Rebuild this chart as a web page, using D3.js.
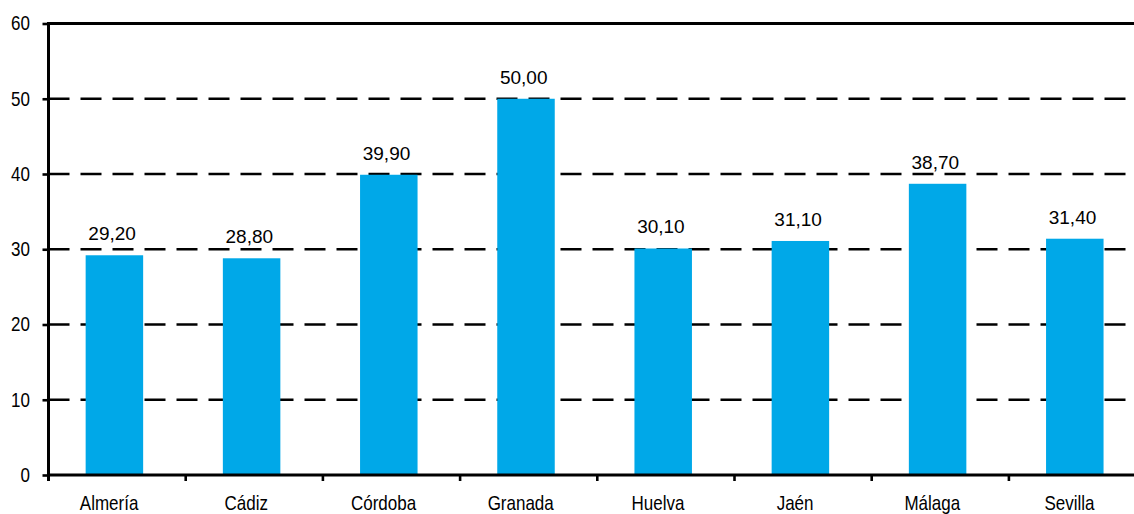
<!DOCTYPE html>
<html>
<head>
<meta charset="utf-8">
<script src="https://cdn.jsdelivr.net/npm/d3@7"></script>
<style>
  body { margin: 0; background: #fff; }
  svg { display: block; }
</style>
</head>
<body>
<script>
const categories = ['Almería', 'Cádiz', 'Córdoba', 'Granada', 'Huelva', 'Jaén', 'Málaga', 'Sevilla']
const values = [29.2, 28.8, 39.9, 50.0, 30.1, 31.1, 38.7, 31.4]
const yTicks = [0, 10, 20, 30, 40, 50, 60]
const valueLabels = ['29,20', '28,80', '39,90', '50,00', '30,10', '31,10', '38,70', '31,40']

const width = 1134
const height = 514
const left = 48.5
const step = 137.2
const barWidth = 57.5
const font = '"Liberation Sans", Arial, sans-serif'

const svg = d3.select('body').append('svg')
  .attr('width', width)
  .attr('height', height)

const x = d3.scaleBand()
  .domain(categories)
  .range([left, left + step * categories.length])
  .padding(0)

const y = d3.scaleLinear()
  .domain([0, 60])
  .range([475, 23.5])

// dashed gridlines
svg.append('g')
  .selectAll('line')
  .data(yTicks.filter(t => t > 0 && t < 60))
  .enter()
  .append('line')
  .attr('x1', left)
  .attr('x2', width)
  .attr('y1', d => y(d))
  .attr('y2', d => y(d))
  .attr('stroke', '#000')
  .attr('stroke-width', 2.6)
  .attr('stroke-dasharray', '21,11')

// top border
svg.append('line')
  .attr('x1', left - 1.5)
  .attr('x2', width)
  .attr('y1', y(60))
  .attr('y2', y(60))
  .attr('stroke', '#000')
  .attr('stroke-width', 3)

// bars
svg.append('g')
  .selectAll('rect')
  .data(values)
  .enter()
  .append('rect')
  .attr('x', (d, i) => x(categories[i]) + (x.bandwidth() - barWidth) / 2 - 2.7)
  .attr('y', d => y(d))
  .attr('width', barWidth)
  .attr('height', d => y(0) - y(d))
  .attr('fill', '#00a8e8')

// value labels
svg.append('g')
  .selectAll('text')
  .data(values)
  .enter()
  .append('text')
  .attr('x', (d, i) => x(categories[i]) + x.bandwidth() / 2 - 5)
  .attr('y', d => y(d) - 15)
  .attr('text-anchor', 'middle')
  .attr('font-family', font)
  .attr('font-size', 19)
  .attr('fill', '#000')
  .text((d, i) => valueLabels[i])

// y axis
var yAxis = d3.axisLeft(y)
  .tickValues(yTicks)
  .tickSize(6)
  .tickPadding(12)

var yAxisGroup = svg.append('g')
  .attr('transform', 'translate(' + left + ',0)')
  .call(yAxis)
yAxisGroup.select('.domain').remove()
yAxisGroup.selectAll('line').attr('stroke', '#000').attr('stroke-width', 2.6)
yAxisGroup.selectAll('text')
  .attr('x', 0)
  .attr('transform', 'translate(-18.5,0) scale(0.85,1)')
  .attr('font-family', font)
  .attr('font-size', 20)
  .attr('fill', '#000')

svg.append('line')
  .attr('x1', left)
  .attr('x2', left)
  .attr('y1', y(60) - 1.5)
  .attr('y2', y(0) + 6)
  .attr('stroke', '#000')
  .attr('stroke-width', 3)

// baseline
svg.append('line')
  .attr('x1', left)
  .attr('x2', width)
  .attr('y1', y(0))
  .attr('y2', y(0))
  .attr('stroke', '#000')
  .attr('stroke-width', 3)

// category boundary ticks
svg.append('g')
  .selectAll('line')
  .data(categories.slice(1))
  .enter()
  .append('line')
  .attr('x1', d => x(d))
  .attr('x2', d => x(d))
  .attr('y1', y(0))
  .attr('y2', y(0) + 6)
  .attr('stroke', '#000')
  .attr('stroke-width', 2.6)

// x axis labels
var xAxis = d3.axisBottom(x)
  .tickSize(0)
  .tickPadding(21)

var xAxisGroup = svg.append('g')
  .attr('transform', 'translate(-8,' + y(0) + ')')
  .call(xAxis)
xAxisGroup.select('.domain').remove()
xAxisGroup.selectAll('text')
  .attr('transform', 'scale(0.85,1)')
  .attr('font-family', font)
  .attr('font-size', 20)
  .attr('fill', '#000')
</script>
</body>
</html>
